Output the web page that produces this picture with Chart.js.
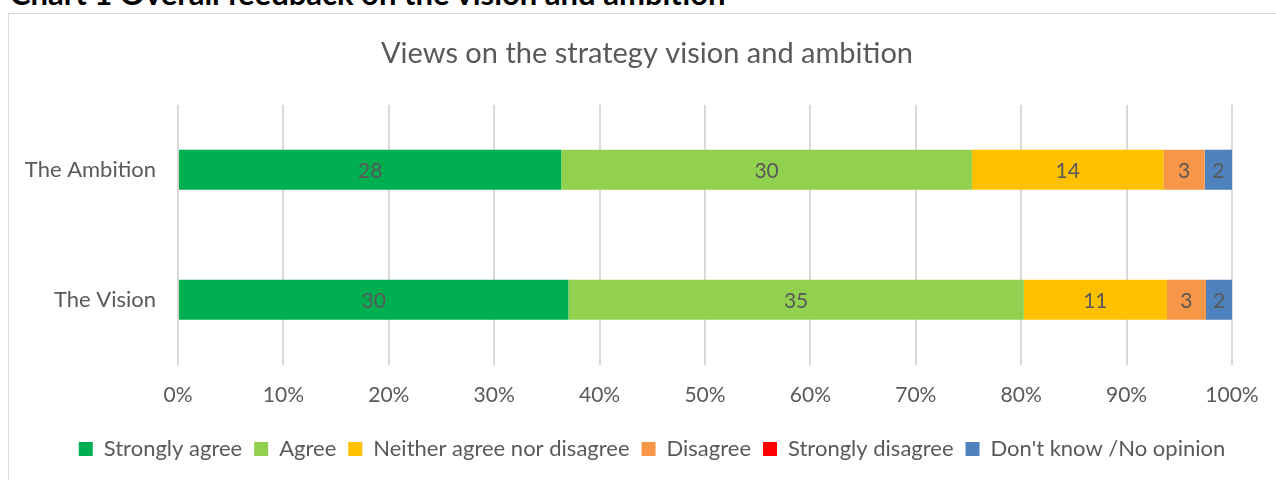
<!DOCTYPE html>
<html>
<head>
<meta charset="utf-8">
<script src="https://cdn.jsdelivr.net/npm/chart.js@4/dist/chart.umd.min.js"></script>
<style>
  html, body { margin: 0; padding: 0; background: #fff; overflow: hidden; width: 1276px; height: 480px; }
  #heading { position: absolute; left: 10px; top: -22px; font: bold 31px Lato, sans-serif; line-height: 31px; color: #000; white-space: nowrap; }
  #frame { position: absolute; left: 8px; top: 13px; width: 1278px; height: 480px; border: 1px solid #d9d9d9; box-sizing: border-box; }
  #box { position: absolute; left: 8px; top: 13px; width: 1278px; height: 467px; }
</style>
</head>
<body>
<div id="heading">Chart 1 Overall feedback on the vision and ambition</div>
<div id="frame"></div>
<div id="box"><canvas id="myChart"></canvas></div>
<script>
// ///////////// survey answers (counts of respondents)
const categories = ['The Ambition', 'The Vision'];
const answerLabels = ['Strongly agree', 'Agree', 'Neither agree nor disagree', 'Disagree', 'Strongly disagree', "Don't know /No opinion"];
const strongAgree = [28, 30];
const agree = [30, 35];
const neither = [14, 11];
const disagree = [3, 3];
const strongDisagree = [0, 0];
const dontKnow = [2, 2];
const tickLabels = ['0%', '10%', '20%', '30%', '40%', '50%', '60%', '70%', '80%', '90%', '100%'];

const colours = ['#00B050', '#92D050', '#FFC000', '#F79646', '#FF0000', '#4F81BD'];
const series = [strongAgree, agree, neither, disagree, strongDisagree, dontKnow];
const grey = '#595959';

// totals per category so every bar runs to 100%
const totals = categories.map((c, i) => series.reduce((s, arr) => s + arr[i], 0));

const datasets = series.map((arr, k) => ({
    label: answerLabels[k],
    data: arr.map((v, i) => v / totals[i] * 100),
    counts: arr,
    backgroundColor: colours[k],
    borderWidth: 0
}));

// /////////////// write the count in the middle of each segment
const countLabels = {
    id: 'countLabels',
    afterDatasetsDraw(chart) {
        const ctx = chart.ctx;
        ctx.save();
        ctx.font = '21px Lato, sans-serif';
        ctx.fillStyle = grey;
        ctx.textAlign = 'center';
        ctx.textBaseline = 'middle';
        chart.data.datasets.forEach((ds, k) => {
            const meta = chart.getDatasetMeta(k);
            meta.data.forEach((bar, i) => {
                const n = ds.counts[i];
                if (!n) return;
                const x = (bar.x + bar.base) / 2;
                ctx.fillText(String(n), x, bar.y + 1);
            });
        });
        ctx.restore();
    }
};

// /////////////// centre title and legend on the whole frame, not the left part
const shiftBlocks = {
    id: 'shiftBlocks',
    afterLayout(chart) {
        if (chart.titleBlock) { chart.titleBlock.left += 27; chart.titleBlock.right += 27; }
        if (chart.legend) { chart.legend.left += 32; chart.legend.right += 32; }
    }
};

const ctx = document.getElementById('myChart').getContext('2d');
const myChart = new Chart(ctx, {
    type: 'bar',
    data: { labels: categories, datasets: datasets },
    plugins: [countLabels, shiftBlocks],
    options: {
        indexAxis: 'y',
        responsive: true,
        maintainAspectRatio: false,
        animation: false,
        layout: { padding: { left: 0, right: 54, top: 0, bottom: 10 } },
        datasets: { bar: { categoryPercentage: 1, barPercentage: 0.308 } },
        scales: {
            x: {
                stacked: true,
                min: 0,
                max: 100,
                ticks: {
                    stepSize: 10,
                    padding: 18,
                    color: grey,
                    font: { family: 'Lato', size: 21 },
                    callback: (v, i) => tickLabels[i]
                },
                grid: { color: '#d9d9d9', lineWidth: 2, drawTicks: false },
                border: { display: false }
            },
            y: {
                stacked: true,
                afterFit: (scale) => { scale.width = 170; },
                ticks: {
                    padding: 22,
                    color: grey,
                    font: { family: 'Lato', size: 22 }
                },
                grid: { display: false, drawTicks: false },
                border: { display: false }
            }
        },
        plugins: {
            title: {
                display: true,
                text: 'Views on the strategy vision and ambition',
                color: grey,
                font: { family: 'Lato', size: 29, weight: 'normal' },
                padding: { top: 23, bottom: 34 }
            },
            legend: {
                position: 'bottom',
                labels: {
                    color: grey,
                    font: { family: 'Lato', size: 22 },
                    boxWidth: 14,
                    boxHeight: 14,
                    padding: 12
                }
            },
            tooltip: { enabled: false }
        }
    }
});
</script>
</body>
</html>
